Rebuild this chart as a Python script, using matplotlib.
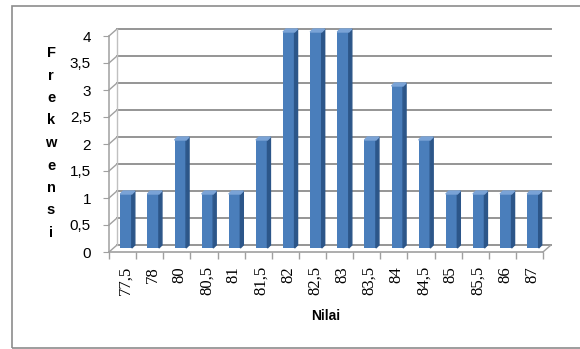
import numpy as np
import matplotlib
matplotlib.use("Agg")
import matplotlib.pyplot as plt
from matplotlib.transforms import ScaledTranslation
from matplotlib.patches import Polygon, Rectangle

# data
nilai = ["77,5", "78", "80", "80,5", "81", "81,5", "82", "82,5",
         "83", "83,5", "84", "84,5", "85", "85,5", "86", "87"]
frekwensi = [1, 1, 2, 1, 1, 2, 4, 4, 4, 2, 3, 2, 1, 1, 1, 1]
y_ticks = [0, 0.5, 1, 1.5, 2, 2.5, 3, 3.5, 4]
y_labels = ["0", "0,5", "1", "1,5", "2", "2,5", "3", "3,5", "4"]

W, H, DPI = 580, 349, 100
fig = plt.figure(figsize=(W / DPI, H / DPI), dpi=DPI)
fig.patch.set_facecolor("white")

# outer chart border
fig.patches.append(Rectangle((12 / W, 1 - 348 / H), 600 / W, 342 / H,
                             transform=fig.transFigure, fill=False,
                             edgecolor="#8c8c8c", lw=1.2))

# front frame of the plot in pixels
left, right, y0, y4 = 109, 543, 252, 36
ax = fig.add_axes([left / W, 1 - y0 / H, (right - left) / W, (y0 - y4) / H])
ax.set_facecolor("none")
n = len(nilai)
ax.set_xlim(-0.5, n - 0.5)
ax.set_ylim(0, 4)
for s in ["top", "right", "bottom"]:
    ax.spines[s].set_visible(False)
ax.spines["left"].set_color("#a0a0a0")
ax.spines["left"].set_linewidth(1.1)

px = (n / (right - left), 4 / (y0 - y4))  # data units per pixel
grid_c = "#959595"
dx, dy = 8, 7  # depth of back wall in pixels
back = ax.transData + ScaledTranslation(dx / DPI, dy / DPI, fig.dpi_scale_trans)

# back wall gridlines + left diagonals
for v in y_ticks:
    ax.plot([-0.5, n - 0.5], [v, v], color=grid_c, lw=1.4, transform=back, clip_on=False)
    ax.plot([-0.5, -0.5 + dx * px[0]], [v, v + dy * px[1]], color="#a0a0a0", lw=1.0, clip_on=False)
ax.plot([-0.5, -0.5], [0, 4], color="#c0c0c0", lw=1.0, transform=back, clip_on=False)
# floor
ax.plot([-0.5, n - 0.5], [0, 0], color="#a0a0a0", lw=1.2, clip_on=False)
ax.plot([n - 0.5, n - 0.5 + dx * px[0]], [0, dy * px[1]], color="#a0a0a0", lw=1.0, clip_on=False)

# bars (pseudo 3D)
mid = ax.transData + ScaledTranslation(3.5 / DPI, 4 / DPI, fig.dpi_scale_trans)
xs = np.arange(n)
bw = 11.5 * px[0]
sx, sy = 3 * px[0], 3 * px[1]
ax.bar(xs, frekwensi, width=bw, color="#4a7ebb", edgecolor="none",
       transform=mid, clip_on=False, zorder=3)
for x, v in zip(xs, frekwensi):
    xr = x + bw / 2
    xl = x - bw / 2
    ax.add_patch(Polygon([(xr, 0), (xr, v), (xr + sx, v + sy), (xr + sx, sy)],
                         closed=True, color="#2c5689", transform=mid,
                         clip_on=False, zorder=3))
    ax.add_patch(Polygon([(xl, v), (xr, v), (xr + sx, v + sy), (xl + sx, v + sy)],
                         closed=True, color="#7aa3d6", transform=mid,
                         clip_on=False, zorder=3))

# ticks
ax.set_yticks(y_ticks)
ax.set_yticklabels(y_labels, fontsize=11, family="Liberation Sans")
ax.tick_params(axis="y", length=4, color="#a0a0a0", pad=9)
ax.set_xticks(xs + 0.1)
ax.set_xticklabels(nilai, rotation=90, fontsize=12, family="Liberation Serif")
ax.tick_params(axis="x", which="major", length=0, pad=10)
ax.set_xticks(np.arange(n + 1) - 0.5, minor=True)
ax.tick_params(axis="x", which="minor", length=5, color="#a0a0a0", width=1)
ax.grid(False)

# axis titles
fig.text(326 / W, 1 - 316 / H, "Nilai", ha="center", va="center",
         fontsize=10, fontweight="bold", family="Liberation Sans")
for i, ch in enumerate("Frekwensi"):
    fig.text(51 / W, 1 - (53 + i * 22.5) / H, ch, ha="center", va="center",
             fontsize=10.5, fontweight="bold", family="Liberation Sans")

fig.savefig("out.png", dpi=DPI)
